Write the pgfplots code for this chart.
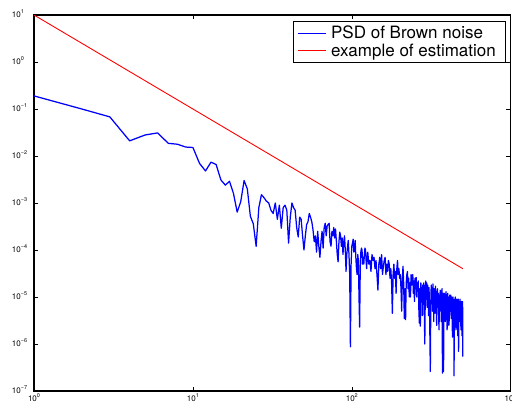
\documentclass[border=0pt]{standalone}
\usepackage{pgfplots}
\pgfplotsset{compat=1.18}
\usepackage{fontspec}
\setmainfont{TeX Gyre Heros}
\newcommand{\tlab}[1]{\pgfmathtruncatemacro{\e}{round(#1)}10\raisebox{4.3pt}{\fontsize{5.5}{6}\selectfont\ifnum\e<0 −\number-\e\else\e\fi}}
\begin{document}
\begin{tikzpicture}
\begin{axis}[name=ax,
  xmode=log, ymode=log, log basis x=10, log basis y=10,
  scale only axis, width=476.7pt, height=376pt,
  xmin=1, xmax=1000, ymin=1e-7, ymax=10,
  xtickten={0,1,2,3}, ytickten={-7,-6,-5,-4,-3,-2,-1,0,1},
  axis line style={line width=1.2pt},
  tick style={black, line width=0.6pt},
  major tick length=4.5pt, minor tick length=2.5pt,
  tick align=inside,
  xticklabel={\tlab{\tick}},
  yticklabel={\tlab{\tick}},
  ticklabel style={font=\fontsize{8}{9}\selectfont},
  yticklabel style={anchor=base west, inner sep=0pt, xshift=-22.3pt, yshift=-2.85pt},
  xticklabel style={anchor=north, inner sep=2.5pt},
  legend style={at={(1,1)}, anchor=north east, xshift=-5.7pt, yshift=-6pt,
    font=\fontsize{17}{19}\selectfont, draw=black,
    inner xsep=4pt, inner ysep=3pt, row sep=0pt,
    nodes={inner xsep=5pt, inner ysep=1pt, text height=13.3pt, text depth=2.4pt}},
  legend cell align=left,
]
\addplot[draw=blue, line width=1.25pt, line join=round,
  legend image code/.code={\draw[draw=blue, line width=0.8pt] (0pt,0pt) -- (28pt,0pt);}] coordinates {
(1,0.19)(2,0.1)(3,0.068)(4,0.021)(5,0.028)(6,0.031)(7,0.0186)(8,0.0178)(9,0.0155)(10,0.0152)
(11,0.007)(12,0.0048)(13,0.0074)(14,0.0066)(15,0.0031)(16,0.0024)(17,0.0029)(18,0.0016)(19,0.00064)(20,0.00107)
(21,0.0030)(22,0.0020)(23,0.00052)(24,0.00036)(25,0.00012)(26,0.0008)(27,0.0015)(28,0.0013)(29,0.0011)(30,0.0010)
(31,0.0007)(32,0.0006)(33,0.0010)(34,0.00045)(35,0.0009)(36,0.00029)(37,0.0008)(38,0.0009)(39,0.0007)(40,0.00014)
(41,0.0005)(42,0.0010)(43,0.0008)(44,0.0007)(45,0.0003)(46,0.00019)(47,0.0005)(48,0.00045)(49,0.0002)(50,0.0001)
(51,0.0002)(52,0.00035)(53,0.0004)(54,0.0006)(55,0.0005)(56,0.0004)(57,0.00027)(58,0.00015)(59,0.0002)(60,0.00009)
(61,0.00025)(62,0.00012)(63,0.00007)(64,0.00015)(65,0.00025)(66,0.00011)(67,0.0003)(68,0.00037)(69,0.0002)(70,0.00033)
(71,0.00035)(72,0.00037)(73,0.00015)(74,0.00012)(75,0.00025)(76,0.0002)(77,0.0003)(78,0.00018)(79,0.00028)(80,0.00015)
(81,0.00008)(82,0.000056)(83,0.00015)(84,0.00024)(85,0.0002)(86,0.00012)(87,0.00018)(88,0.00008)(89,0.00015)(90,0.0002)
(91,0.0001)(92,0.000035)(93,0.00008)(94,0.00012)(95,0.00016)(96,0.00008)(97,0.00003)(98,0.00000087)(99,0.00005)(100,0.00012)
(101,0.00014)(102,0.00017)(103,0.00009)(104,0.00011)(105,0.00016)(106,0.00007)(107,0.00004)(108,0.00003)(109,0.00008)(110,0.00006)
(111,0.00001)(112,0.0000023)(113,0.00004)(114,0.00009)(115,0.00011)(116,0.0001)(117,0.00005)(118,0.00007)(119,0.00005)(120,0.00008)
(121,0.00011)(122,0.0001)(123,0.00006)(124,0.00004)(125,0.00007)(126,0.00009)
(128,5e-5)(130,6e-5)(132,3.5e-5)(134,8e-5)(136,6e-5)(138,7e-5)(140,4e-5)(142,6e-5)(144,3e-5)(146,1.4e-5)
(148,5e-5)(150,7e-5)(152,4e-5)(154,8e-5)(156,3e-5)(158,4.5e-5)(160,6e-5)(162,7e-5)(164,3e-5)(166,5e-5)
(168,3.5e-5)(170,6e-5)(172,5e-5)(174,2.5e-5)(176,4e-5)(178,2e-5)(180,4.5e-6)(182,3e-5)(184,5e-5)(186,2.5e-5)
(188,3.5e-5)(190,1.2e-5)(192,4e-5)(194,6e-5)(196,3e-5)(198,4e-5)(200,2.5e-5)
(202,3e-5)(204,1.5e-5)(206,5e-6)(208,2.5e-5)(210,4.5e-5)(212,2e-5)(214,3.5e-6)(216,1.5e-5)(218,3.3e-6)(220,2e-5)
(222,3e-5)(224,3.5e-5)(226,1.5e-5)(228,2.5e-5)(230,1e-5)(232,2e-5)(234,1e-5)(236,3e-5)(238,1.8e-5)(240,2.8e-5)
(242,3e-5)(244,1.2e-5)(246,2.2e-5)(248,8e-6)(250,2.5e-5)(252,1.5e-5)(254,2.6e-5)(256,1e-5)(258,2e-5)(260,1.4e-5)
(262,2.2e-5)(264,6e-6)(266,2.8e-6)(268,1.5e-5)(270,2.4e-6)(272,2e-5)(274,8e-6)(276,1.6e-5)(278,4e-6)(280,1.8e-5)
(282,7e-6)(284,2e-5)(286,5e-6)(288,1e-6)(290,1.2e-5)(292,2.2e-5)(294,9e-6)(296,2e-5)(298,6e-6)(300,1.8e-5)
(302,1.2e-5)(304,4e-6)(306,1.6e-5)(308,8e-6)(310,1.5e-6)(312,2.6e-7)(314,6e-6)(316,1.8e-5)(318,1e-5)(320,1.6e-5)
(322,5e-6)(324,1.9e-5)(326,1.2e-5)(328,3e-6)(330,1.5e-5)(332,8e-6)(334,4.5e-6)(336,1.7e-5)(338,7e-6)(340,1.3e-5)
(342,2.5e-6)(344,1.2e-5)(346,1.5e-5)(348,6e-6)(350,1.2e-5)(352,4e-6)(354,2e-6)(356,1.1e-5)(358,8e-6)(360,1.4e-5)
(362,5e-6)(364,1e-5)(366,3e-6)(368,1.3e-5)(370,1.5e-5)(372,2.4e-7)(374,7e-6)(376,1.2e-5)(378,2.6e-7)(380,8e-6)
(382,1.2e-5)(384,5e-6)(386,1e-5)(388,3e-6)(390,1.1e-5)(392,1.3e-5)(394,6e-6)(396,9e-6)(398,2e-6)(400,1.1e-5)
(402,1.2e-5)(404,4e-6)(406,1e-5)(408,2.5e-6)(410,3.2e-6)(412,9e-6)(414,1.1e-5)(416,5e-6)(418,1e-5)(420,1.1e-5)
(422,3.5e-6)(424,8e-6)(426,1e-5)(428,4e-6)(430,1.4e-6)(432,8e-6)(434,1e-5)(436,2.5e-6)(438,7e-6)(440,2.1e-7)
(442,5e-6)(444,9e-6)(446,3e-6)(448,1e-5)(450,6e-6)(452,2e-6)(454,9e-6)(456,8e-6)(458,4e-6)(460,9e-6)
(462,5e-6)(464,1.5e-6)(466,7e-6)(468,9e-6)(470,7e-7)(472,5e-6)(474,8e-6)(476,3e-6)(478,7e-6)(480,9e-6)
(482,4e-6)(484,7.5e-6)(486,2e-6)(488,8e-6)(490,5e-6)(492,8e-6)(494,1.5e-6)(496,6e-6)(498,8e-6)(500,5.4e-7)
};
\addlegendentry{PSD of Brown noise}
\addplot[draw=red, line width=0.9pt,
  legend image code/.code={\draw[draw=red, line width=0.8pt] (0pt,0pt) -- (28pt,0pt);}] coordinates {(1,10)(500,4e-5)};
\addlegendentry{example of estimation}
\end{axis}
\pgfresetboundingbox
\path[use as bounding box] ([xshift=-34pt,yshift=-14pt]ax.south west) rectangle ([xshift=1.3pt,yshift=15pt]ax.north east);
\end{tikzpicture}
\end{document}
